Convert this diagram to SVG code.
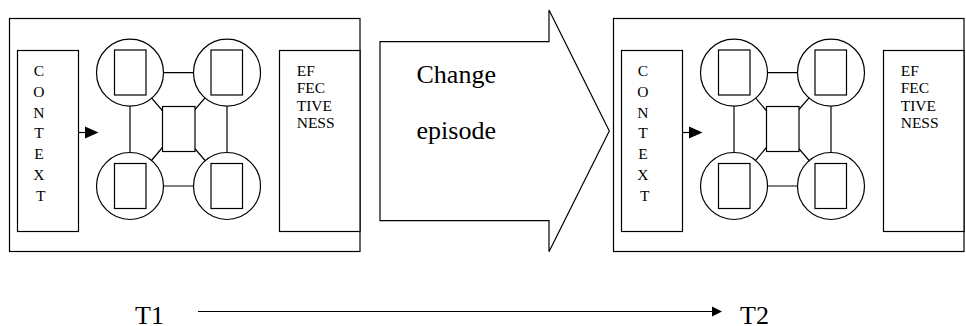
<svg xmlns="http://www.w3.org/2000/svg" width="966" height="326" viewBox="0 0 966 326">
  <style>
    .box { fill: #fff; stroke: #000; stroke-width: 1.2; }
    .wire { stroke: #000; stroke-width: 1.2; fill: none; }
    .head { fill: #000; stroke: none; }
    text { font-family: "Liberation Serif", "DejaVu Serif", "Times New Roman", serif; fill: #000; }
    .small { font-size: 15.5px; }
    .big { font-size: 26px; }
  </style>
  <defs>
    <!-- one organisational state: context, linked units, effectiveness -->
    <g id="state">
      <rect class="box" x="9.5" y="18.5" width="350.5" height="233"/>
      <g class="links">
        <line class="wire" x1="130" y1="72.7" x2="227" y2="72.7"/>
        <line class="wire" x1="130" y1="186" x2="227" y2="186"/>
        <line class="wire" x1="130" y1="72.7" x2="130" y2="186"/>
        <line class="wire" x1="227" y1="72.7" x2="227" y2="186"/>
        <line class="wire" x1="130" y1="72.7" x2="178" y2="129"/>
        <line class="wire" x1="227" y1="72.7" x2="178" y2="129"/>
        <line class="wire" x1="130" y1="186" x2="178" y2="129"/>
        <line class="wire" x1="227" y1="186" x2="178" y2="129"/>
        <line class="wire" x1="78.5" y1="132.5" x2="86" y2="132.5"/>
        <polygon class="head" points="85,126.5 98.5,132.5 85,138.5"/>
      </g>
      <rect class="box" x="17.5" y="50.5" width="61" height="181"/>
      <text class="small" font-family="Liberation Serif, DejaVu Serif, serif" text-anchor="middle">
        <tspan x="40.8" y="76">C</tspan>
        <tspan x="40.8" y="96.8">O</tspan>
        <tspan x="40.8" y="117.6">N</tspan>
        <tspan x="40.8" y="138.4">T</tspan>
        <tspan x="40.8" y="159.2">E</tspan>
        <tspan x="40.8" y="180">X</tspan>
        <tspan x="40.8" y="200.8">T</tspan>
      </text>
      <circle class="box" cx="130" cy="72.7" r="33.5"/>
      <rect class="box" x="114.5" y="50" width="31.5" height="45"/>
      <circle class="box" cx="227" cy="72.7" r="33.5"/>
      <rect class="box" x="211" y="50" width="31.5" height="45"/>
      <circle class="box" cx="130" cy="186" r="33.5"/>
      <rect class="box" x="114.5" y="163.5" width="31.5" height="45"/>
      <circle class="box" cx="227" cy="186" r="33.5"/>
      <rect class="box" x="211" y="163.5" width="31.5" height="45"/>
      <rect class="box" x="162.5" y="106.5" width="32.5" height="45"/>
      <rect class="box" x="279.5" y="50.5" width="80.5" height="181"/>
      <text class="small" font-family="Liberation Serif, DejaVu Serif, serif">
        <tspan x="296.7" y="76">EF</tspan>
        <tspan x="296.7" y="93.4">FEC</tspan>
        <tspan x="296.7" y="110.8">TIVE</tspan>
        <tspan x="296.7" y="128.2">NESS</tspan>
      </text>
    </g>
  </defs>
  <rect width="966" height="326" fill="#fff"/>

  <!-- state at T1 -->
  <g id="state-t1">
    <use href="#state"/>
  </g>

  <!-- change episode arrow -->
  <g id="change-episode">
    <polygon class="box" points="380,41.7 549,41.7 549,10 609.3,131 549,251.7 549,220.7 380,220.7"/>
    <text class="big" font-family="Liberation Serif, DejaVu Serif, serif">
      <tspan x="416.5" y="82.5">Change</tspan>
      <tspan x="416.5" y="139">episode</tspan>
    </text>
  </g>

  <!-- state at T2 -->
  <g id="state-t2">
    <use href="#state" x="604"/>
  </g>

  <!-- time axis -->
  <g id="connectors">
    <line class="wire" x1="198" y1="311.5" x2="713" y2="311.5"/>
    <polygon class="head" points="712,306.5 722,311.5 712,316.5"/>
  </g>
  <g id="label-t1">
    <text class="big" font-family="Liberation Serif, DejaVu Serif, serif" x="135" y="324">T1</text>
  </g>
  <g id="label-t2">
    <text class="big" font-family="Liberation Serif, DejaVu Serif, serif" x="740" y="324">T2</text>
  </g>
</svg>
